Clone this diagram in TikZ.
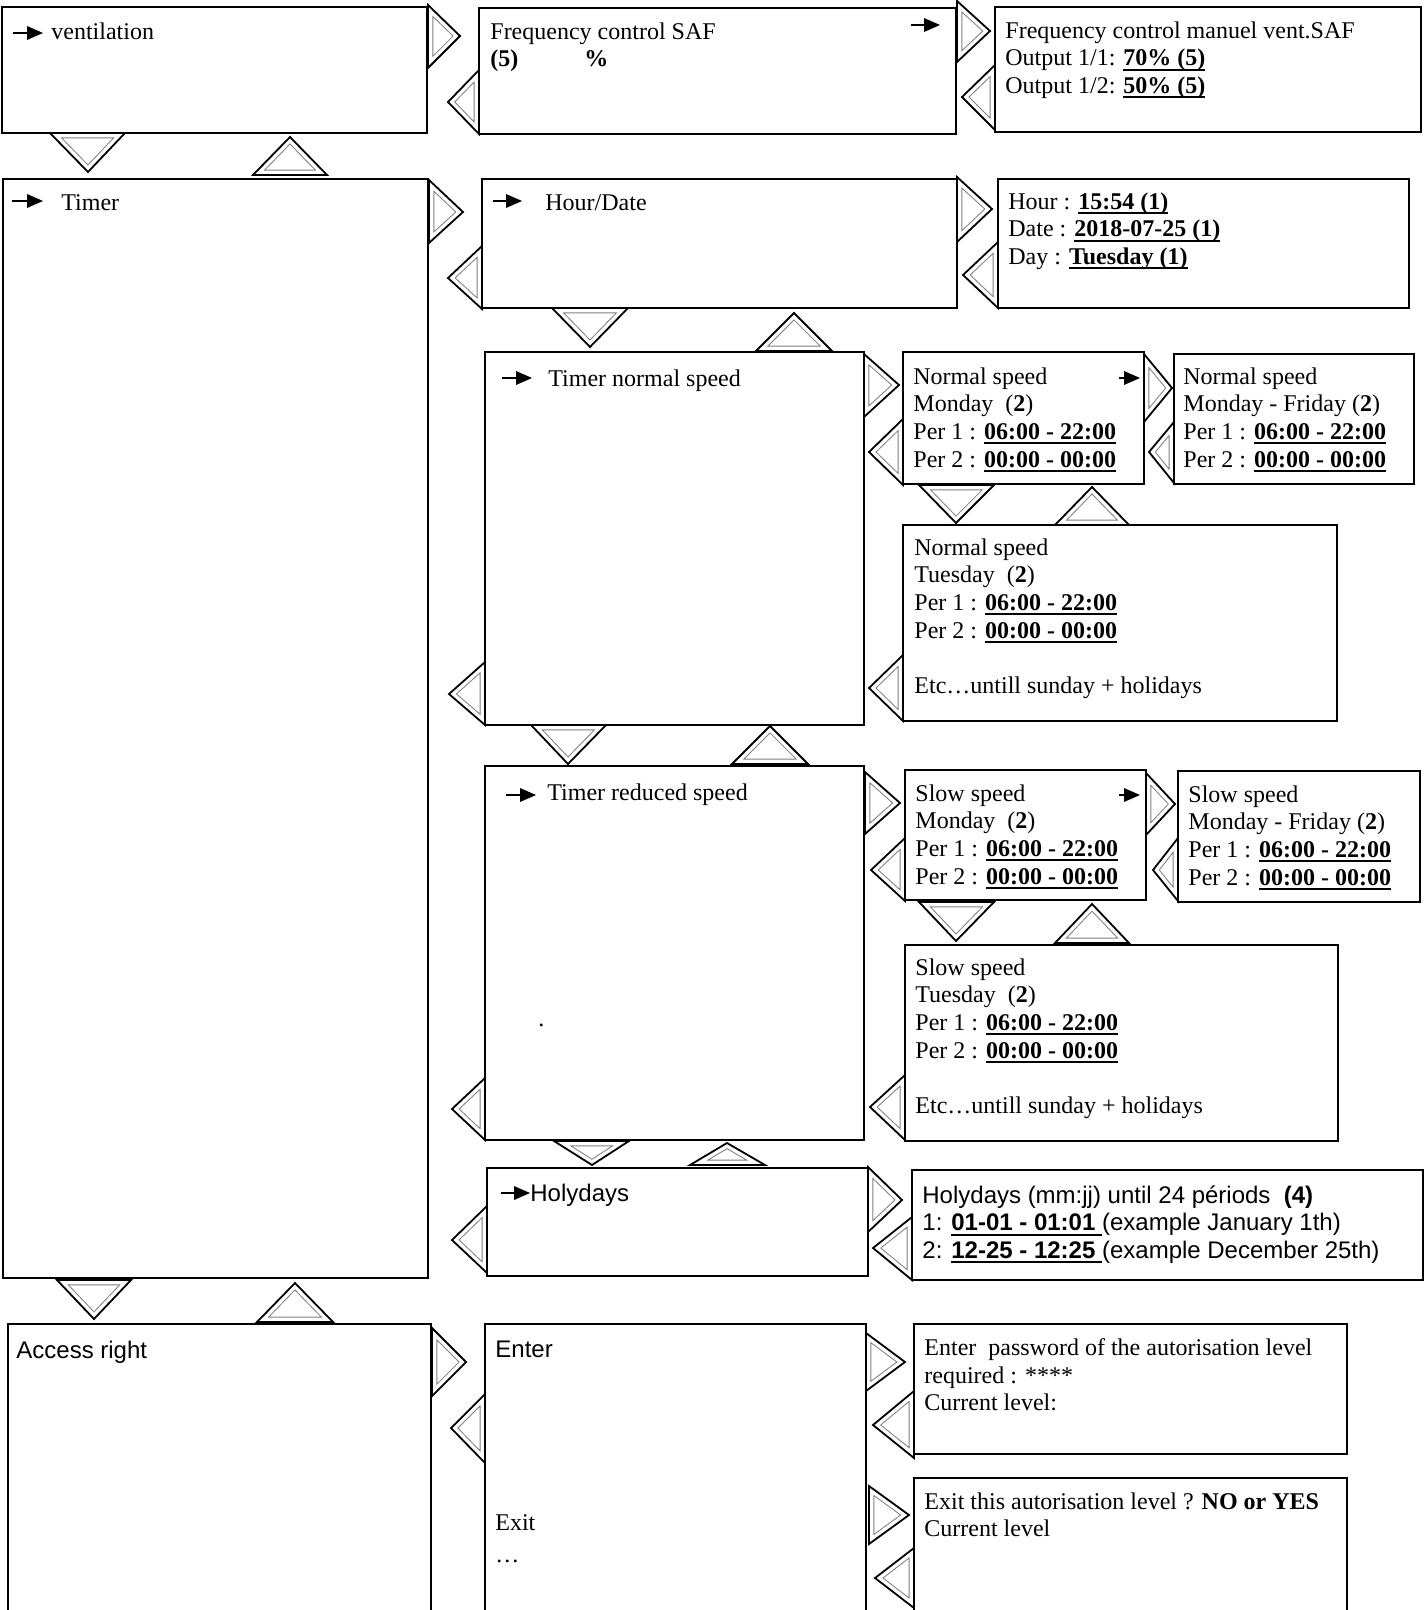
\documentclass[tikz,border=0pt]{standalone}
\usepackage{fontspec}
\setmainfont{Liberation Serif}
\setsansfont{Liberation Sans}
\usetikzlibrary{fit,calc}
\newsavebox\ulbx
\newcommand\myul[1]{\sbox\ulbx{#1}\rlap{\rule[-2.4pt]{\wd\ulbx}{1pt}}\usebox\ulbx}
\newcommand\navtri[3]{%
  \begin{scope}
    \clip (#1) -- (#2) -- (#3) -- cycle;
    \fill[white] (#1) -- (#2) -- (#3) -- cycle;
    \draw[tringray] (#1) -- (#2) -- (#3) -- cycle;
    \draw[tringap] (#1) -- (#2) -- (#3) -- cycle;
  \end{scope}
  \draw[trinout] (#1) -- (#2) -- (#3) -- cycle;}
\newcommand\smarrow[3]{%
  \draw[line width=1pt] (#1,#3) -- ({#2-14},#3);
  \fill ({#2-16},{#3-7}) -- (#2,#3) -- ({#2-16},{#3+7}) -- cycle;}
\newcommand\mkbox[5]{\node[menubox, fit={(#2,#3) (#4,#5)}] (#1) {};}
\newcommand\myfont{\fontsize{12}{13.85}\selectfont}
\begin{document}
\begin{tikzpicture}[x=0.5pt,y=-0.5pt,
  menubox/.style={draw, line width=1pt, inner sep=0pt},
  tringray/.style={draw=gray, line width=5.3pt},
  tringap/.style={draw=white, line width=4.3pt},
  trinout/.style={draw=black, line width=0.9pt, line join=miter},
  txt/.style={inner sep=0pt, anchor=north west, align=left,
    font=\myfont, execute at begin node=\strut},
  stxt/.style={txt, font=\sffamily\myfont}]
\fill[white] (0,0) rectangle (1425,1610);
\useasboundingbox (0,0) rectangle (1425,1610);

% boxes
\mkbox{A}{2}{7}{427}{133}
\mkbox{B}{479}{8}{956}{134}
\mkbox{C}{995}{7}{1421}{132}
\mkbox{D}{3}{179}{428}{1278}
\mkbox{E}{482}{179}{957}{308}
\mkbox{F}{998}{179}{1409}{308}
\mkbox{G}{485}{352}{864}{725}
\mkbox{H}{903}{352}{1144}{484}
\mkbox{I}{1174}{354}{1414}{484}
\mkbox{J}{903}{525}{1337}{721}
\mkbox{K}{485}{766}{864}{1140}
\mkbox{L}{905}{770}{1146}{900}
\mkbox{M}{1178}{771}{1420}{902}
\mkbox{N}{905}{945}{1338}{1141}
\mkbox{O}{487}{1168}{868}{1276}
\mkbox{P}{912}{1170}{1423}{1280}
\mkbox{Q}{8}{1324}{431}{1616}
\mkbox{R}{485}{1324}{866}{1616}
\mkbox{S}{914}{1324}{1347}{1454}
\mkbox{T}{914}{1478}{1347}{1616}

% navigation triangles
\navtri{428,5}{460,36}{428,68}
\navtri{479,70}{448,102}{479,134}
\navtri{957,1}{990,31}{957,62}
\navtri{995,65}{962,97}{995,130}
\navtri{50,133}{125,133}{88,172}
\navtri{253,175}{327,175}{290,137}
\navtri{429,180}{463,212}{429,243}
\navtri{482,246}{448,278}{482,309}
\navtri{957,177}{992,209}{957,242}
\navtri{998,242}{963,275}{998,308}
\navtri{552,308}{628,308}{590,347}
\navtri{756,351}{832,351}{794,313}
\navtri{864,354}{899,385}{864,417}
\navtri{903,419}{869,452}{903,485}
\navtri{1144,354}{1172,388}{1144,422}
\navtri{1174,422}{1149,452}{1174,483}
\navtri{919,485}{994,485}{956,523}
\navtri{1055,525}{1129,525}{1092,487}
\navtri{903,655}{869,688}{903,721}
\navtri{485,662}{449,694}{485,725}
\navtri{531,725}{606,725}{568,764}
\navtri{732,764}{808,764}{770,726}
\navtri{865,772}{900,803}{865,834}
\navtri{905,838}{871,870}{905,901}
\navtri{1146,773}{1175,804}{1146,835}
\navtri{1178,838}{1153,870}{1178,901}
\navtri{919,902}{994,902}{956,941}
\navtri{1055,943}{1129,943}{1092,904}
\navtri{905,1075}{870,1107}{905,1140}
\navtri{485,1078}{452,1109}{485,1140}
\navtri{554,1141}{629,1141}{592,1165}
\navtri{690,1165}{765,1165}{727,1143}
\navtri{868,1167}{902,1200}{868,1232}
\navtri{912,1217}{873,1248}{912,1280}
\navtri{487,1206}{452,1240}{487,1273}
\navtri{57,1280}{131,1280}{94,1319}
\navtri{257,1322}{333,1322}{295,1283}
\navtri{432,1328}{466,1362}{432,1396}
\navtri{485,1394}{451,1428}{485,1463}
\navtri{866,1333}{905,1362}{866,1391}
\navtri{914,1391}{873,1425}{914,1458}
\navtri{869,1486}{909,1515}{869,1544}
\navtri{914,1548}{875,1578}{914,1608}

% small arrows
\smarrow{13}{43}{33}
\smarrow{12}{43}{201}
\smarrow{493}{522}{201}
\smarrow{502}{532}{378}
\smarrow{506}{536}{795}
\smarrow{501}{530}{1193}
\smarrow{911}{940}{25}
\smarrow{1119}{1140}{378}
\smarrow{1119}{1140}{795}

% texts
\node[txt] (At) at (51,20) {ventilation};
\node[txt] (Bt) at (490,22) {Frequency control SAF\\\textbf{(5)}\hspace{33pt}\textbf{\%}};
\node[txt] (Ct) at (1005,21) {Frequency control manuel vent.SAF\\Output 1/1: \myul{\textbf{70\% (5)}}\\Output 1/2: \myul{\textbf{50\% (5)}}};
\node[txt] (Dt) at (61,191) {Timer};
\node[txt] (Et) at (545,191) {Hour/Date};
\node[txt] (Ft) at (1008,192) {Hour : \myul{\textbf{15:54 (1)}}\\Date : \myul{\textbf{2018-07-25 (1)}}\\Day : \myul{\textbf{Tuesday (1)}}};
\node[txt] (Gt) at (548,367) {Timer normal speed};
\node[txt] (Ht) at (913,367) {Normal speed\\Monday~~(\textbf{2})\\Per 1 : \myul{\textbf{06:00 - 22:00}}\\Per 2 : \myul{\textbf{00:00 - 00:00}}};
\node[txt] (It) at (1183,367) {Normal speed\\Monday - Friday (\textbf{2})\\Per 1 : \myul{\textbf{06:00 - 22:00}}\\Per 2 : \myul{\textbf{00:00 - 00:00}}};
\node[txt] (Jt) at (914,538) {Normal speed\\Tuesday~~(\textbf{2})\\Per 1 : \myul{\textbf{06:00 - 22:00}}\\Per 2 : \myul{\textbf{00:00 - 00:00}}\\[13.85pt]Etc…untill sunday + holidays};
\node[txt] (Kt) at (547,781) {Timer reduced speed};
\node[txt] (Kdot) at (538,1007) {.};
\node[txt] (Lt) at (915,784) {Slow speed\\Monday~~(\textbf{2})\\Per 1 : \myul{\textbf{06:00 - 22:00}}\\Per 2 : \myul{\textbf{00:00 - 00:00}}};
\node[txt] (Mt) at (1188,785) {Slow speed\\Monday - Friday (\textbf{2})\\Per 1 : \myul{\textbf{06:00 - 22:00}}\\Per 2 : \myul{\textbf{00:00 - 00:00}}};
\node[txt] (Nt) at (915,958) {Slow speed\\Tuesday~~(\textbf{2})\\Per 1 : \myul{\textbf{06:00 - 22:00}}\\Per 2 : \myul{\textbf{00:00 - 00:00}}\\[13.85pt]Etc…untill sunday + holidays};
\node[stxt] (Ot) at (530,1182) {Holydays};
\node[stxt] (Pt) at (922,1185) {Holydays (mm:jj) until 24 périods~~\textbf{(4)}\\1: \myul{\textbf{01-01 - 01:01 }}(example January 1th)\\2: \myul{\textbf{12-25 - 12:25 }}(example December 25th)};
\node[stxt] (Qt) at (16,1339) {Access right};
\node[stxt] (Rt) at (495,1338) {Enter};
\node[txt] (Rx) at (495,1514) {Exit\\[2pt]…};
\node[txt] (St) at (924,1338) {Enter~~password of the autorisation level\\required : ****\\Current level:};
\node[txt] (Tt) at (924,1492) {Exit this autorisation level ? \textbf{NO or YES}\\Current level};
\end{tikzpicture}
\end{document}
